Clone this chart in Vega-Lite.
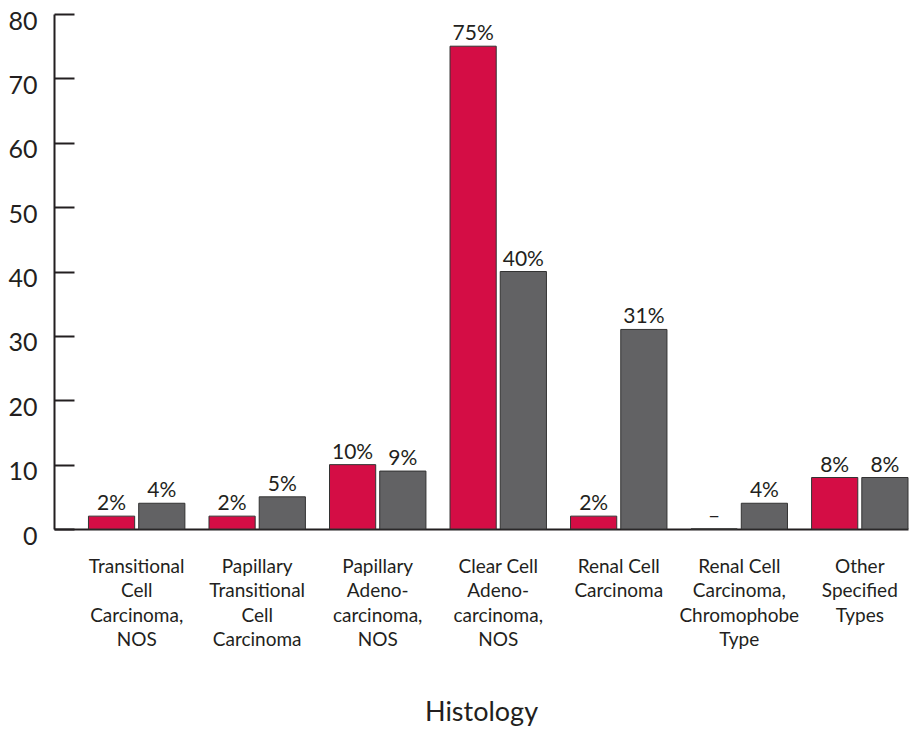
{
  "$schema": "https://vega.github.io/schema/vega-lite/v6.json",
  "autosize": "none",
  "width": 854,
  "height": 515,
  "padding": {"left": 54, "top": 14, "right": 2, "bottom": 202},
  "background": "white",
  "config": {
    "view": {"stroke": null},
    "font": "Lato",
    "axis": {"labelFont": "Lato", "titleFont": "Lato", "labelColor": "#231f20", "titleColor": "#231f20", "grid": false, "domainColor": "#231f20", "tickColor": "#231f20"}
  },
  "data": {
    "values": [
      {"histology": "Transitional|Cell|Carcinoma,|NOS", "series": "A", "pct": 2, "label": "2%"},
      {"histology": "Transitional|Cell|Carcinoma,|NOS", "series": "B", "pct": 4, "label": "4%"},
      {"histology": "Papillary|Transitional|Cell|Carcinoma", "series": "A", "pct": 2, "label": "2%"},
      {"histology": "Papillary|Transitional|Cell|Carcinoma", "series": "B", "pct": 5, "label": "5%"},
      {"histology": "Papillary|Adeno-|carcinoma,|NOS", "series": "A", "pct": 10, "label": "10%"},
      {"histology": "Papillary|Adeno-|carcinoma,|NOS", "series": "B", "pct": 9, "label": "9%"},
      {"histology": "Clear Cell|Adeno-|carcinoma,|NOS", "series": "A", "pct": 75, "label": "75%"},
      {"histology": "Clear Cell|Adeno-|carcinoma,|NOS", "series": "B", "pct": 40, "label": "40%"},
      {"histology": "Renal Cell|Carcinoma", "series": "A", "pct": 2, "label": "2%"},
      {"histology": "Renal Cell|Carcinoma", "series": "B", "pct": 31, "label": "31%"},
      {"histology": "Renal Cell|Carcinoma,|Chromophobe|Type", "series": "A", "pct": 0, "label": "–"},
      {"histology": "Renal Cell|Carcinoma,|Chromophobe|Type", "series": "B", "pct": 4, "label": "4%"},
      {"histology": "Other|Specified|Types", "series": "A", "pct": 8, "label": "8%"},
      {"histology": "Other|Specified|Types", "series": "B", "pct": 8, "label": "8%"}
    ]
  },
  "encoding": {
    "x": {
      "field": "histology", "type": "nominal", "sort": null,
      "scale": {"paddingInner": 0.2, "paddingOuter": 0.143, "align": 1},
      "axis": {
        "title": "Histology", "titleFontSize": 27, "titleFontWeight": "normal", "titlePadding": 50,
        "labelAngle": 0, "labelFontSize": 19, "labelLineHeight": 24.5, "labelPadding": 28,
        "labelExpr": "split(datum.label, '|')", "ticks": false, "domainWidth": 2, "labelBaseline": "top"
      }
    },
    "xOffset": {"field": "series", "type": "nominal", "scale": {"paddingInner": 0.08}},
    "y": {
      "field": "pct", "type": "quantitative",
      "scale": {"domain": [0, 80], "nice": false},
      "axis": {
        "title": null, "values": [0, 10, 20, 30, 40, 50, 60, 70, 80], "labelFontSize": 25,
        "tickSize": -20, "tickWidth": 2, "domainWidth": 2, "labelPadding": 37, "labelOffset": 7
      }
    }
  },
  "layer": [
    {
      "mark": {"type": "bar", "stroke": "#333333", "strokeWidth": 1},
      "encoding": {
        "color": {"field": "series", "type": "nominal", "scale": {"domain": ["A", "B"], "range": ["#D40D45", "#626264"]}, "legend": null}
      }
    },
    {
      "mark": {"type": "text", "baseline": "alphabetic", "dy": -6, "fontSize": 21, "color": "#231f20"},
      "encoding": {"text": {"field": "label"}}
    }
  ]
}
